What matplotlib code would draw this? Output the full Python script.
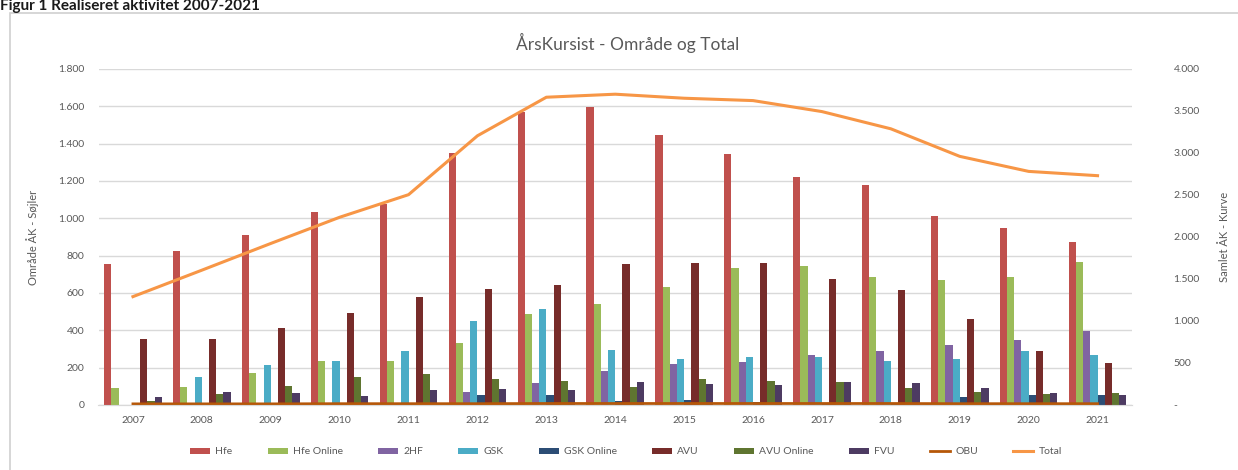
import numpy as np
import matplotlib.pyplot as plt
from matplotlib.patches import Rectangle
from matplotlib.ticker import FuncFormatter

plt.rcParams['font.family'] = ['Lato', 'DejaVu Sans']

# data
years = ["2007", "2008", "2009", "2010", "2011", "2012", "2013", "2014",
         "2015", "2016", "2017", "2018", "2019", "2020", "2021"]
hfe = [755, 823, 910, 1034, 1077, 1351, 1570, 1599, 1447, 1344, 1221, 1179, 1015, 949, 872]
hfe_online = [89, 98, 169, 237, 237, 330, 490, 543, 632, 735, 744, 687, 668, 687, 766]
hf2 = [0, 0, 0, 0, 5, 71, 119, 182, 217, 228, 267, 288, 322, 347, 395]
gsk = [0, 148, 212, 235, 290, 449, 513, 297, 249, 258, 255, 237, 244, 290, 267]
gsk_online = [5, 0, 0, 0, 0, 53, 53, 20, 27, 16, 5, 5, 44, 53, 53]
avu = [351, 351, 410, 495, 577, 620, 643, 758, 762, 763, 673, 614, 463, 288, 226]
avu_online = [23, 59, 101, 151, 164, 139, 130, 98, 137, 130, 125, 93, 71, 59, 62]
fvu = [41, 71, 66, 48, 80, 84, 80, 121, 110, 107, 125, 116, 93, 62, 53]
obu = [6, 6, 6, 7, 7, 7, 8, 8, 8, 8, 8, 8, 7, 7, 7]
total = [1290, 1605, 1923, 2235, 2504, 3205, 3664, 3700, 3652, 3624, 3493, 3288, 2960, 2781, 2730]

bar_series = [
    ("Hfe", hfe, "#C0504D"),
    ("Hfe Online", hfe_online, "#9BBB59"),
    ("2HF", hf2, "#8064A2"),
    ("GSK", gsk, "#4BACC6"),
    ("GSK Online", gsk_online, "#2C4D75"),
    ("AVU", avu, "#772C2A"),
    ("AVU Online", avu_online, "#5F7530"),
    ("FVU", fvu, "#4D3B62"),
]

W, H = 1238, 470
fig = plt.figure(figsize=(W / 100, H / 100), dpi=100)

# chart border
fig.patches.append(Rectangle((10 / W, -0.1), 1.2, 1 - 13 / H + 0.1, transform=fig.transFigure,
                             fill=False, edgecolor="#D0D0D0", linewidth=1.2))

fig.text(0 / W, 1 - 10 / H, "Figur 1 Realiseret aktivitet 2007-2021", fontsize=11,
         fontweight="bold", color="#1a1a1a", ha="left", va="baseline")

ax = fig.add_axes([98.5 / W, 65 / H, (1132 - 98.5) / W, 336 / H])
ax2 = ax.twinx()

x = np.arange(len(years))
bw = 0.1045
n = len(bar_series)
handles = []
for i, (name, vals, col) in enumerate(bar_series):
    b = ax.bar(x + (i - (n - 1) / 2) * bw, vals, bw, color=col, label=name, zorder=3)
    handles.append(b)

l_obu, = ax.plot(x, obu, color="#B65708", lw=2, label="OBU", zorder=4)
handles.append(l_obu)
l_tot, = ax2.plot(x, total, color="#F79646", lw=2.2, label="Total", zorder=4)
handles.append(l_tot)

ax.set_xlim(-0.5, len(years) - 0.5)
ax.set_ylim(0, 1800)
ax.set_yticks(np.arange(0, 1801, 200))
ax2.set_ylim(0, 4000)
ax2.set_yticks(np.arange(0, 4001, 500))

def dk(v, pos):
    return f"{int(v):,}".replace(",", ".")

def dk_right(v, pos):
    return "-" if v == 0 else f"{int(v):,}".replace(",", ".")

ax.yaxis.set_major_formatter(FuncFormatter(dk))
ax2.yaxis.set_major_formatter(FuncFormatter(dk_right))
ax.set_xticks(x)
ax.set_xticklabels(years)

ax.grid(axis="y", color="#D9D9D9", lw=1, zorder=0)
ax.set_axisbelow(True)
for a in (ax, ax2):
    for s in ("top", "left", "right"):
        a.spines[s].set_visible(False)
    a.spines["bottom"].set_color("#D9D9D9")
    a.tick_params(length=0, labelsize=7.5, colors="#595959")
ax.tick_params(axis="y", pad=10)
ax2.tick_params(axis="y", pad=30)
ax.tick_params(axis="x", pad=8)

ax.set_ylabel("Område ÅK - Søjler", fontsize=8, color="#595959", labelpad=14)
ax2.set_ylabel("Samlet ÅK - Kurve", fontsize=8, color="#595959", labelpad=14)

fig.text(628 / W, 1 - 43 / H, "ÅrsKursist - Område og Total", fontsize=12.5,
         color="#595959", ha="center", va="center")

fig.legend(handles=handles, labels=[h.get_label() for h in handles], loc="center",
           bbox_to_anchor=(626 / W, 1 - 452 / H), ncol=10, frameon=False,
           fontsize=7.5, labelcolor="#595959", handlelength=1.9, handleheight=0.6,
           columnspacing=3.4, handletextpad=0.5)

fig.savefig("out.png", dpi=100)
